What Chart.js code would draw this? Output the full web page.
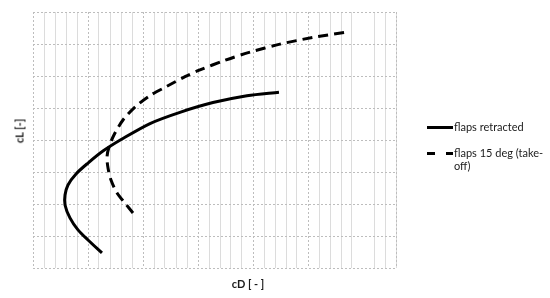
<!DOCTYPE html>
<html>
<head>
<meta charset="utf-8">
<script src="https://cdn.jsdelivr.net/npm/chart.js@4/dist/chart.umd.min.js"></script>
<style>
  html, body { margin: 0; padding: 0; background: #fff; }
  #wrap { position: relative; width: 550px; height: 298px; font-family: Lato, "Liberation Sans", sans-serif; color: #1a1a1a; }
  #c { position: absolute; left: 0; top: 0; }
  .t { position: absolute; white-space: nowrap; font-size: 11px; line-height: 13px; }
  .b { font-weight: bold; }
  .sw { position: absolute; height: 3px; background: #000; }
</style>
</head>
<body>
<div id="wrap">
  <canvas id="c" width="550" height="298"></canvas>
  <div class="t b" id="ytitle" style="left:19px; top:131px; transform: translate(-50%,-50%) rotate(-90deg);">cL [-]</div>
  <div class="t b" id="xtitle" style="left:248px; top:283px; transform: translate(-50%,-50%);">cD [ - ]</div>
  <div class="sw" style="left:427px; top:126px; width:26px;"></div>
  <div class="t" style="left:454px; top:120px;">flaps retracted</div>
  <div class="sw" style="left:427px; top:152px; width:8px;"></div>
  <div class="sw" style="left:446px; top:152px; width:7px;"></div>
  <div class="t" style="left:454px; top:146px;">flaps 15 deg (take-<br>off)</div>
</div>
<script>
// Series: flaps retracted (drag polar)
const retractedCD = [0.0627, 0.0500, 0.0409, 0.0336, 0.0291, 0.0291, 0.0318, 0.0391, 0.0500, 0.0636, 0.0809, 0.1064, 0.1336, 0.1636, 0.1945, 0.2236];
const retractedCL = [0.094, 0.175, 0.238, 0.313, 0.394, 0.456, 0.519, 0.588, 0.656, 0.731, 0.806, 0.903, 0.973, 1.034, 1.077, 1.099];

// Series: flaps 15 deg (take-off)
const takeoffCD = [0.0909, 0.0836, 0.0764, 0.0709, 0.0682, 0.0673, 0.0691, 0.0736, 0.0818, 0.0927, 0.1064, 0.1218, 0.1382, 0.1518, 0.1745, 0.1973, 0.2245, 0.2545, 0.2855];
const takeoffCL = [0.344, 0.406, 0.469, 0.550, 0.625, 0.694, 0.756, 0.831, 0.925, 1.006, 1.078, 1.136, 1.196, 1.238, 1.298, 1.349, 1.399, 1.441, 1.475];

const seriesLabels = ["flaps retracted", "flaps 15 deg (take-off)"];

// Axis ranges / steps (no tick labels shown)
const xMin = 0, xMax = 0.33, xMinorStep = 0.01, xMajorStep = 0.05;
const yMin = 0, yMax = 1.6, yStep = 0.2;

function pts(xs, ys) { return xs.map((x, i) => ({ x: x, y: ys[i] })); }

new Chart(document.getElementById('c'), {
  type: 'line',
  data: {
    datasets: [
      {
        label: seriesLabels[0],
        data: pts(retractedCD, retractedCL),
        borderColor: '#000',
        borderWidth: 3,
        pointRadius: 0,
        tension: 0.3,
        fill: false,
        xAxisID: 'x', yAxisID: 'y'
      },
      {
        label: seriesLabels[1],
        data: pts(takeoffCD, takeoffCL),
        borderColor: '#000',
        borderWidth: 3,
        borderDash: [10, 6],
        pointRadius: 0,
        tension: 0.3,
        fill: false,
        xAxisID: 'x', yAxisID: 'y'
      }
    ]
  },
  options: {
    responsive: false,
    animation: false,
    devicePixelRatio: 1,
    layout: { padding: { left: 33, top: 12, right: 154, bottom: 30 } },
    plugins: { legend: { display: false }, tooltip: { enabled: false } },
    scales: {
      x: {
        type: 'linear', min: xMin, max: xMax,
        ticks: { display: false, stepSize: xMinorStep },
        grid: {
          drawTicks: false, lineWidth: 1,
          color: (ctx) => (ctx.index % 5 === 0 ? 'rgba(0,0,0,0)' : '#dcdcdc')
        },
        border: { display: false }
      },
      x2: {
        type: 'linear', position: 'bottom', min: xMin, max: xMax,
        ticks: { display: false, stepSize: xMajorStep },
        grid: { drawTicks: false, lineWidth: 1, color: '#bdbdbd' },
        border: { display: false, dash: [2, 2] }
      },
      y: {
        type: 'linear', min: yMin, max: yMax,
        ticks: { display: false, stepSize: yStep },
        grid: { drawTicks: false, lineWidth: 1, color: '#bdbdbd' },
        border: { display: false, dash: [2, 2] }
      }
    }
  }
});
</script>
</body>
</html>
